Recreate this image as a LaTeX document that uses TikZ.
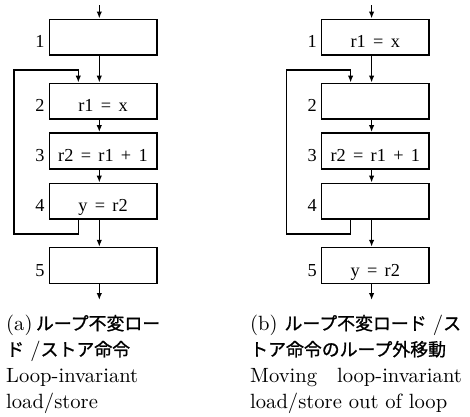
\documentclass[tikz,border=0pt]{standalone}
\usepackage{fontspec}
\newfontfamily\boxfont[WordSpace=1.6]{Liberation Serif}
\newfontfamily\capfont[Extension=.otf]{lmroman10-regular}
\newfontfamily\jpfont[FakeBold=1]{Noto Sans CJK JP}
\newcommand\jt[1]{{\jpfont\fontsize{17.9}{26}\selectfont #1}}
\usetikzlibrary{arrows.meta}
\begin{document}
\begin{tikzpicture}[x=1pt,y=-1pt,
  blk/.style={draw, line width=1.6pt, minimum width=107.4pt, minimum height=35.8pt,
    inner sep=0pt, text height=21pt, text depth=0pt,
    font=\boxfont\fontsize{18.3}{22}\selectfont},
  num/.style={anchor=east, inner sep=0pt, xshift=-3.8pt, text height=21pt, text depth=0pt,
    font=\boxfont\fontsize{18.3}{22}\selectfont},
  flow/.style={line width=1.6pt, line join=miter, -{Latex[length=7pt,width=5.5pt]}},
  captxt/.style={anchor=base west, inner sep=0pt, font=\capfont\fontsize{20.6}{26}\selectfont}
]
\useasboundingbox (0,0) rectangle (470,416);

% ---------- left column (a) ----------
\node[blk] (a1) at (103,37.2) {};
\node[blk] (a2) at (103,101.3) {r1 = x};
\node[blk] (a3) at (103,150.8) {r2 = r1 + 1};
\node[blk] (a4) at (103,201.3) {y = r2};
\node[blk] (a5) at (103,265.5) {};
\foreach \i in {1,...,5} \node[num] (an\i) at (a\i.west) {\i};

\coordinate (atop) at (99.3,5);
\coordinate (abot) at (99.3,300);
\coordinate (alp) at (78.3,0);
\coordinate (abl) at (14,234);
\coordinate (atl) at (14,70);

\draw[flow] (atop) -- (a1.north -| atop);
\draw[flow] (a1.south -| atop) -- (a2.north -| atop);
\draw[flow] (a2.south -| atop) -- (a3.north -| atop);
\draw[flow] (a3.south -| atop) -- (a4.north -| atop);
\draw[flow] (a4.south -| atop) -- (a5.north -| atop);
\draw[flow] (a5.south -| atop) -- (abot);
\draw[flow] (a4.south -| alp) -- (alp |- abl) -- (abl) -- (atl) -- (atl -| alp) -- (a2.north -| alp);

% ---------- right column (b) ----------
\node[blk] (b1) at (375.3,37.2) {r1 = x};
\node[blk] (b2) at (375.3,101.3) {};
\node[blk] (b3) at (375.3,150.8) {r2 = r1 + 1};
\node[blk] (b4) at (375.3,201.3) {};
\node[blk] (b5) at (375.3,265.5) {y = r2};
\foreach \i in {1,...,5} \node[num] (bn\i) at (b\i.west) {\i};

\coordinate (btop) at (371.6,5);
\coordinate (bbot) at (371.6,300);
\coordinate (blp) at (350.6,0);
\coordinate (bbl) at (286.3,234);
\coordinate (btl) at (286.3,70);

\draw[flow] (btop) -- (b1.north -| btop);
\draw[flow] (b1.south -| btop) -- (b2.north -| btop);
\draw[flow] (b2.south -| btop) -- (b3.north -| btop);
\draw[flow] (b3.south -| btop) -- (b4.north -| btop);
\draw[flow] (b4.south -| btop) -- (b5.north -| btop);
\draw[flow] (b5.south -| btop) -- (bbot);
\draw[flow] (b4.south -| blp) -- (blp |- bbl) -- (bbl) -- (btl) -- (btl -| blp) -- (b2.north -| blp);

% ---------- captions ----------
\node[captxt] (ca1) at (6,330) {(a)\,\jt{ループ不変ロー}};
\node[captxt] (ca2) at (6,356) {\jt{ド}\hspace{0.3em}/\jt{ストア命令}};
\node[captxt] (ca3) at (6,382) {Loop-invariant};
\node[captxt] (ca4) at (6,408) {load/store};

\node[captxt] (cb1) at (250,330) {(b) \jt{ループ不変ロード}\hspace{0.3em}/\jt{ス}};
\node[captxt] (cb2) at (250,356) {\jt{トア命令のループ外移動}};
\node[captxt] (cb3) at (250,382) {\makebox[211.7pt][s]{Moving loop-invariant}};
\node[captxt] (cb4) at (250,408) {load/store out of loop};
\end{tikzpicture}
\end{document}
